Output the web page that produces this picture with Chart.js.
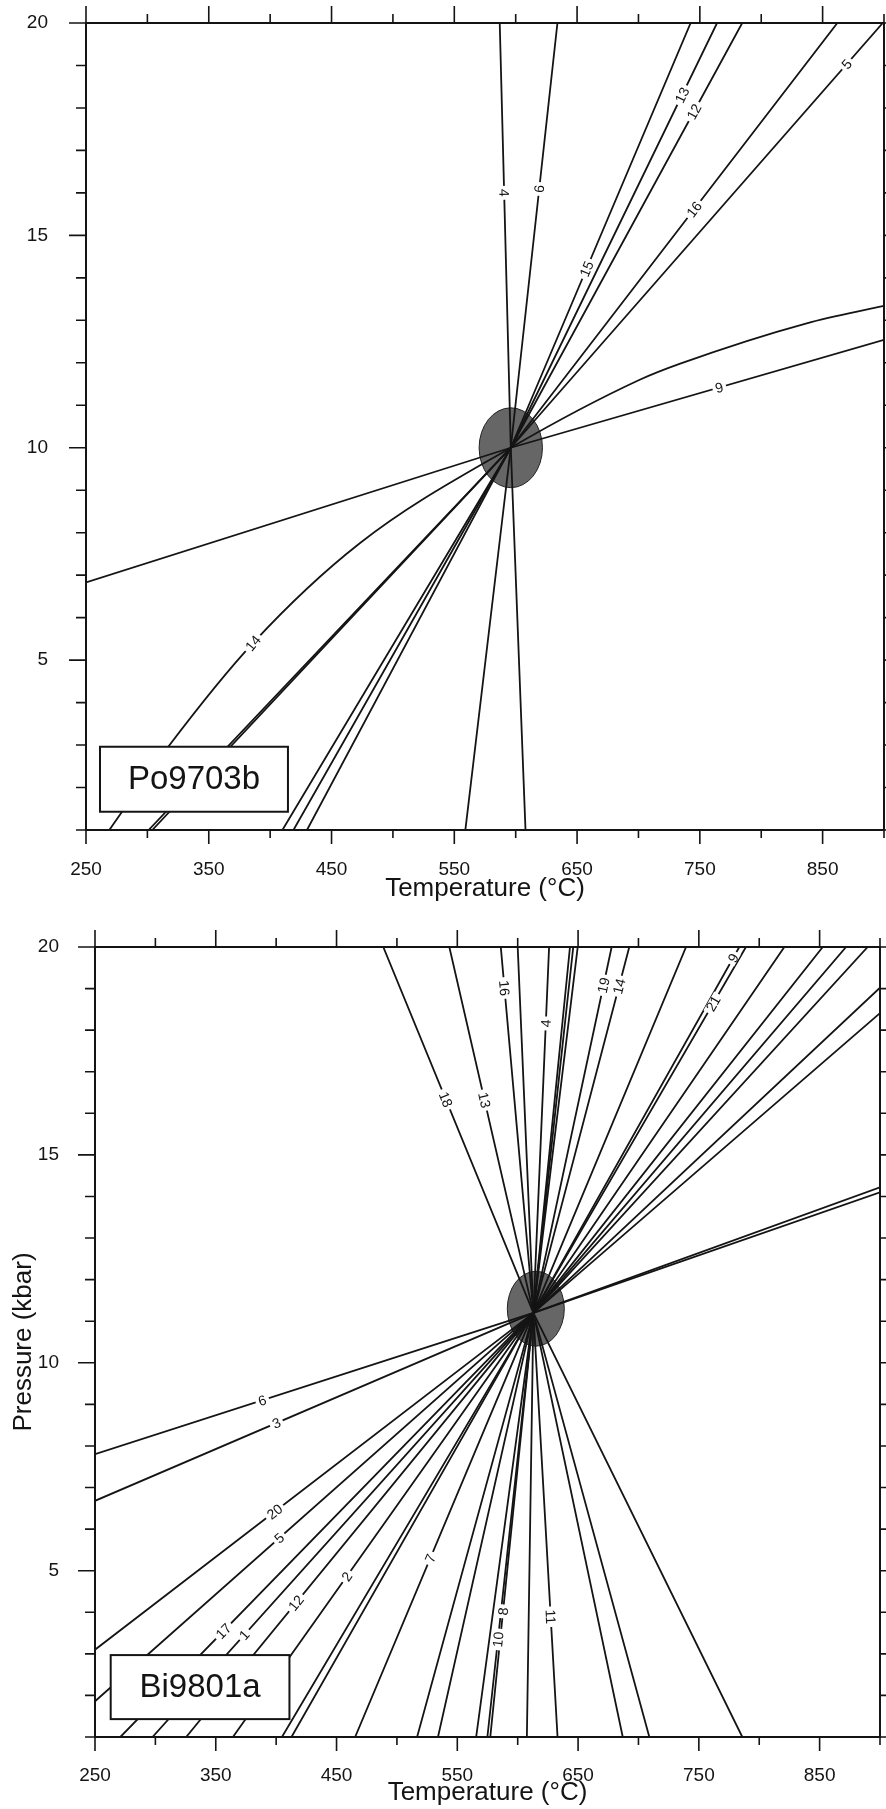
<!DOCTYPE html>
<html>
<head>
<meta charset="utf-8">
<script src="https://cdn.jsdelivr.net/npm/chart.js@4"></script>
<style>
  html, body { margin: 0; padding: 0; background: #fff; }
  body { width: 886px; height: 1809px; position: relative; overflow: hidden; }
  canvas { position: absolute; left: 0; }
  #po { top: 0; }
  #bi { top: 905px; }
</style>
</head>
<body>
<canvas id="po" width="886" height="905"></canvas>
<canvas id="bi" width="886" height="904"></canvas>
<script>
// tick labels (both panels)
const tempTicks = [250, 350, 450, 550, 650, 750, 850]
const presTicks = [5, 10, 15, 20]

// Po9703b : one row per reaction line, temperature (°C) and pressure (kbar)
const poNames = ['4', '6', '15', '13', '12', '16', '5', '14', '9']
const poTemp = [
  [587, 596, 608],
  [634, 596, 559],
  [742.5, 596, 430],
  [764, 596, 419],
  [784.5, 596, 410],
  [862, 596, 304],
  [899, 596, 301],
  [269, 317, 386, 473, 596, 701, 734, 837, 900],
  [250, 596, 900]
]
const poPres = [
  [20, 10, 1],
  [20, 10, 1],
  [20, 10, 1],
  [20, 10, 1],
  [20, 10, 1],
  [20, 10, 1],
  [20, 10, 1],
  [1, 2.96, 5.4, 7.75, 10, 11.6, 11.98, 12.93, 13.34],
  [6.83, 10, 12.54]
]
const poTagT = [589.5, 617, 658.6, 737.9, 744.7, 749, 870, 386, 766]
const poTagP = [16.0, 16.1, 14.2, 18.27, 17.92, 15.53, 19.02, 5.4, 11.4]
const poResult = [596, 10, 25.8, 0.94]   // T, P, sd T, sd P

// Bi9801a
const biNames = ['18', '13', '16', '11', '4', '8', '10', '', '19', '14', '7',
  '9', '21', '2', '12', '1', '17', '5', '20', '3', '6']
const biTemp = [
  [488.7, 613, 786],
  [543.4, 613, 709],
  [586, 613, 687],
  [600, 613, 633],
  [626, 613, 607.6],
  [643.3, 613, 577.3],
  [646, 613, 574.9],
  [649.7, 613, 565.6],
  [677.8, 613, 534],
  [692.4, 613, 516.7],
  [739.4, 613, 465.4],
  [783.5, 613, 412.7],
  [789, 613, 404.8],
  [820.8, 613, 364.2],
  [852.6, 613, 325.5],
  [871.9, 613, 297.6],
  [889.8, 613, 271],
  [900, 613, 250],
  [900, 613, 250],
  [900, 613, 250],
  [900, 613, 250]
]
const biPres = [
  [20, 11.2, 1], [20, 11.2, 1], [20, 11.2, 1], [20, 11.2, 1], [20, 11.2, 1],
  [20, 11.2, 1], [20, 11.2, 1], [20, 11.2, 1], [20, 11.2, 1], [20, 11.2, 1],
  [20, 11.2, 1], [20, 11.2, 1], [20, 11.2, 1], [20, 11.2, 1], [20, 11.2, 1],
  [20, 11.2, 1], [20, 11.2, 1],
  [19.02, 11.2, 1.86],
  [18.41, 11.2, 3.10],
  [14.1, 11.2, 6.68],
  [14.22, 11.2, 7.80]
]
const biTagT = [538.6, 571.3, 591, 627, 624.2, 588, 583, null, 671, 685, 528.3,
  778, 762, 459, 417, 374, 357, 403, 399, 400, 388.5]
const biTagP = [16.31, 16.31, 19.02, 3.89, 18.16, 4.02, 3.35, null, 19.08, 19.05, 5.29,
  19.74, 18.64, 4.85, 4.21, 3.45, 3.53, 5.77, 6.41, 8.56, 9.10]
const biResult = [615, 11.3, 23.6, 0.9]

const FONT = '"Liberation Sans", Arial, Helvetica, sans-serif'
const INK = '#141414'
Chart.defaults.font.family = FONT
Chart.defaults.color = INK

// ellipse, line numbers, sample box, frame with ticks
const deco = {
  id: 'deco',
  beforeDatasetsDraw(chart, args, opts) {
    const {ctx, scales: {x, y}} = chart
    const [t, p, dt, dp] = opts.result
    const cx = x.getPixelForValue(t), cy = y.getPixelForValue(p)
    const rx = Math.abs(x.getPixelForValue(t + dt) - cx)
    const ry = Math.abs(y.getPixelForValue(p + dp) - cy)
    ctx.save()
    ctx.beginPath()
    ctx.ellipse(cx, cy, rx, ry, 0, 0, Math.PI * 2)
    ctx.fillStyle = '#666'
    ctx.fill()
    ctx.lineWidth = 1
    ctx.strokeStyle = '#222'
    ctx.stroke()
    ctx.restore()
  },
  afterDatasetsDraw(chart, args, opts) {
    const {ctx, scales: {x, y}} = chart
    ctx.save()
    ctx.font = '14px ' + FONT
    ctx.textAlign = 'center'
    ctx.textBaseline = 'middle'
    chart.data.datasets.forEach((ds, i) => {
      if (opts.tagT[i] == null || !ds.label) return
      const pts = ds.data.map(d => [x.getPixelForValue(d.x), y.getPixelForValue(d.y)])
      const qx = x.getPixelForValue(opts.tagT[i]), qy = y.getPixelForValue(opts.tagP[i])
      let best = null
      for (let k = 0; k < pts.length - 1; k++) {
        const [x1, y1] = pts[k], [x2, y2] = pts[k + 1]
        const dx = x2 - x1, dy = y2 - y1
        let u = ((qx - x1) * dx + (qy - y1) * dy) / (dx * dx + dy * dy)
        u = Math.max(0, Math.min(1, u))
        const px = x1 + u * dx, py = y1 + u * dy
        const dist = Math.hypot(qx - px, qy - py)
        if (!best || dist < best.dist) best = {dist, px, py, ang: Math.atan2(dy, dx)}
      }
      let ang = best.ang
      if (ang > Math.PI / 2) ang -= Math.PI
      if (ang < -Math.PI / 2) ang += Math.PI
      const w = ctx.measureText(ds.label).width
      ctx.save()
      ctx.translate(best.px, best.py)
      ctx.rotate(ang)
      ctx.fillStyle = '#fff'
      ctx.fillRect(-w / 2 - 3, -5, w + 6, 10)
      ctx.fillStyle = INK
      ctx.fillText(ds.label, 0, 1)
      ctx.restore()
    })

    const b = opts.box
    const bx0 = x.getPixelForValue(b.t[0]), bx1 = x.getPixelForValue(b.t[1])
    const by0 = y.getPixelForValue(b.p[1]), by1 = y.getPixelForValue(b.p[0])
    ctx.fillStyle = '#fff'
    ctx.fillRect(bx0, by0, bx1 - bx0, by1 - by0)
    ctx.lineWidth = 2
    ctx.strokeStyle = INK
    ctx.strokeRect(bx0, by0, bx1 - bx0, by1 - by0)
    ctx.fillStyle = INK
    ctx.font = '33px ' + FONT
    ctx.fillText(b.text, (bx0 + bx1) / 2, (by0 + by1) / 2 + 1)
    ctx.restore()
  },
  afterDraw(chart) {
    const {ctx, chartArea: a, scales: {x, y}} = chart
    ctx.save()
    ctx.strokeStyle = INK
    ctx.lineWidth = 2
    ctx.strokeRect(a.left, a.top, a.right - a.left, a.bottom - a.top)
    ctx.lineWidth = 1.6
    ctx.beginPath()
    x.ticks.forEach(t => {
      const px = x.getPixelForValue(t.value)
      const major = tempTicks.includes(t.value)
      ctx.moveTo(px, a.bottom)
      ctx.lineTo(px, a.bottom + (major ? 14 : 8))
      ctx.moveTo(px, a.top)
      ctx.lineTo(px, a.top - (major ? 17 : 9))
    })
    y.ticks.forEach(t => {
      const py = y.getPixelForValue(t.value)
      const major = presTicks.includes(t.value)
      ctx.moveTo(a.left, py)
      ctx.lineTo(a.left - (major ? 17 : 10), py)
      ctx.moveTo(a.right, py)
      ctx.lineTo(a.right + (major ? 17 : 10), py)
    })
    ctx.stroke()
    ctx.restore()
  }
}

function makePanel(id, names, temps, press, tagT, tagP, result, box, geo) {
  const datasets = names.map((name, i) => ({
    label: name,
    data: temps[i].map((t, k) => ({x: t, y: press[i][k]})),
    borderColor: INK,
    borderWidth: 1.8,
    pointRadius: 0,
    fill: false,
    cubicInterpolationMode: temps[i].length > 3 ? 'monotone' : 'default',
    tension: 0
  }))

  return new Chart(document.getElementById(id), {
    type: 'line',
    data: {datasets},
    plugins: [deco],
    options: {
      responsive: false,
      animation: false,
      devicePixelRatio: 1,
      layout: {padding: geo.padding},
      plugins: {
        legend: {display: false},
        tooltip: {enabled: false},
        deco: {tagT, tagP, result, box}
      },
      scales: {
        x: {
          type: 'linear',
          min: 250,
          max: 900,
          grid: {display: false},
          border: {display: false},
          ticks: {
            stepSize: 50,
            autoSkip: false,
            maxRotation: 0,
            padding: geo.xPad,
            font: {size: 19},
            callback: v => tempTicks.includes(v) ? String(v) : ''
          },
          title: {
            display: true,
            text: 'Temperature (°C)',
            font: {size: 26},
            padding: {top: 0, bottom: 1}
          },
          afterFit: s => {
            s.height = geo.xHeight
            s.paddingLeft = 0
            s.paddingRight = 0
          }
        },
        y: {
          type: 'linear',
          min: 1,
          max: 20,
          grid: {display: false},
          border: {display: false},
          ticks: {
            stepSize: 1,
            autoSkip: false,
            padding: geo.yPad,
            font: {size: 19},
            callback: v => presTicks.includes(v) ? String(v) : ''
          },
          title: {
            display: geo.yTitle,
            text: 'Pressure (kbar)',
            font: {size: 26},
            padding: {top: 8, bottom: 0}
          },
          afterFit: s => {
            s.width = geo.yWidth
            s.paddingTop = 0
            s.paddingBottom = 0
          }
        }
      }
    }
  })
}

makePanel('po', poNames, poTemp, poPres, poTagT, poTagP, poResult,
  {text: 'Po9703b', t: [261.4, 414.5], p: [1.43, 2.96]},
  {padding: {top: 23, right: 2, left: 0, bottom: 0}, xHeight: 75, yWidth: 86, xPad: 20, yPad: 30, yTitle: false})

makePanel('bi', biNames, biTemp, biPres, biTagT, biTagP, biResult,
  {text: 'Bi9801a', t: [263, 411], p: [1.43, 2.97]},
  {padding: {top: 42, right: 6, left: 0, bottom: 0}, xHeight: 72, yWidth: 95, xPad: 19, yPad: 28, yTitle: true})
</script>
</body>
</html>
